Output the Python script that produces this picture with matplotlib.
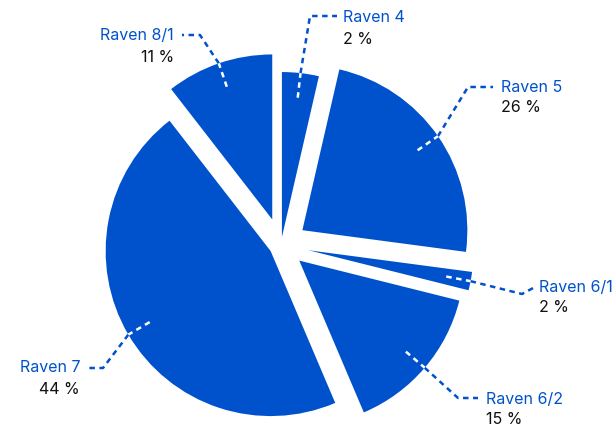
import matplotlib
matplotlib.use("Agg")
import matplotlib.pyplot as plt
import numpy as np

# data (slice shares follow the drawn angles)
names = ["Raven 4", "Raven 5", "Raven 6/1", "Raven 6/2", "Raven 7", "Raven 8/1"]
shares = [3.6, 23.5, 1.8, 14.7, 45.9, 10.5]
pct_labels = ["2 %", "26 %", "2 %", "15 %", "44 %", "11 %"]

W, H = 616, 426
BLUE = "#0052CC"

# layout in pixel coords of the image (y down)
center = (281, 245)
radius = 165
pull = [8, 26, 28, 24, 12, 27]
# leader elbow, leader end, text anchor, alignment
elbows = [(310, 16), (468, 87), (522, 294), (458, 398), (103, 368), (200, 35)]
ends = [(337, 16), (493, 87), (535, 287), (478, 398), (86, 368), (182, 35)]
text_pos = [(343, 18), (501, 87), (539, 287), (486, 399), (80, 368), (174, 36)]
align = ["left", "left", "left", "left", "right", "right"]


def px(x, y):
    return x, H - y


plt.rcParams["font.family"] = ["Inter", "DejaVu Sans"]

fig = plt.figure(figsize=(W / 100, H / 100), dpi=100)
ax = fig.add_axes([0, 0, 1, 1])

# matplotlib adds explode to the centre in data units
wedges, _ = ax.pie(
    shares,
    startangle=90,
    counterclock=False,
    radius=radius,
    center=px(*center),
    explode=pull,
    colors=[BLUE] * len(shares),
    wedgeprops=dict(linewidth=0),
)

for i, w in enumerate(wedges):
    ang = np.deg2rad((w.theta1 + w.theta2) / 2)
    cx, cy = w.center
    inner = (cx + 0.85 * w.r * np.cos(ang), cy + 0.85 * w.r * np.sin(ang))
    edge = (cx + w.r * np.cos(ang), cy + w.r * np.sin(ang))
    ex, ey = px(*elbows[i])
    nx, ny = px(*ends[i])
    ax.plot([edge[0], ex, nx], [edge[1], ey, ny], color=BLUE, lw=1.8,
            dashes=(2.2, 1.8), solid_capstyle="butt")
    ax.plot([inner[0], edge[0]], [inner[1], edge[1]], color="white", lw=1.8,
            dashes=(2.2, 1.8))
    tx, ty = px(*text_pos[i])
    ax.text(tx, ty, names[i], color=BLUE, fontsize=11.5, ha=align[i], va="center")
    ax.text(tx, ty - 21, pct_labels[i], color="#111111", fontsize=11.5,
            ha=align[i], va="center")

ax.set_xlim(0, W)
ax.set_ylim(0, H)
ax.set_aspect("equal")
ax.axis("off")

fig.savefig("out.png", dpi=100)
